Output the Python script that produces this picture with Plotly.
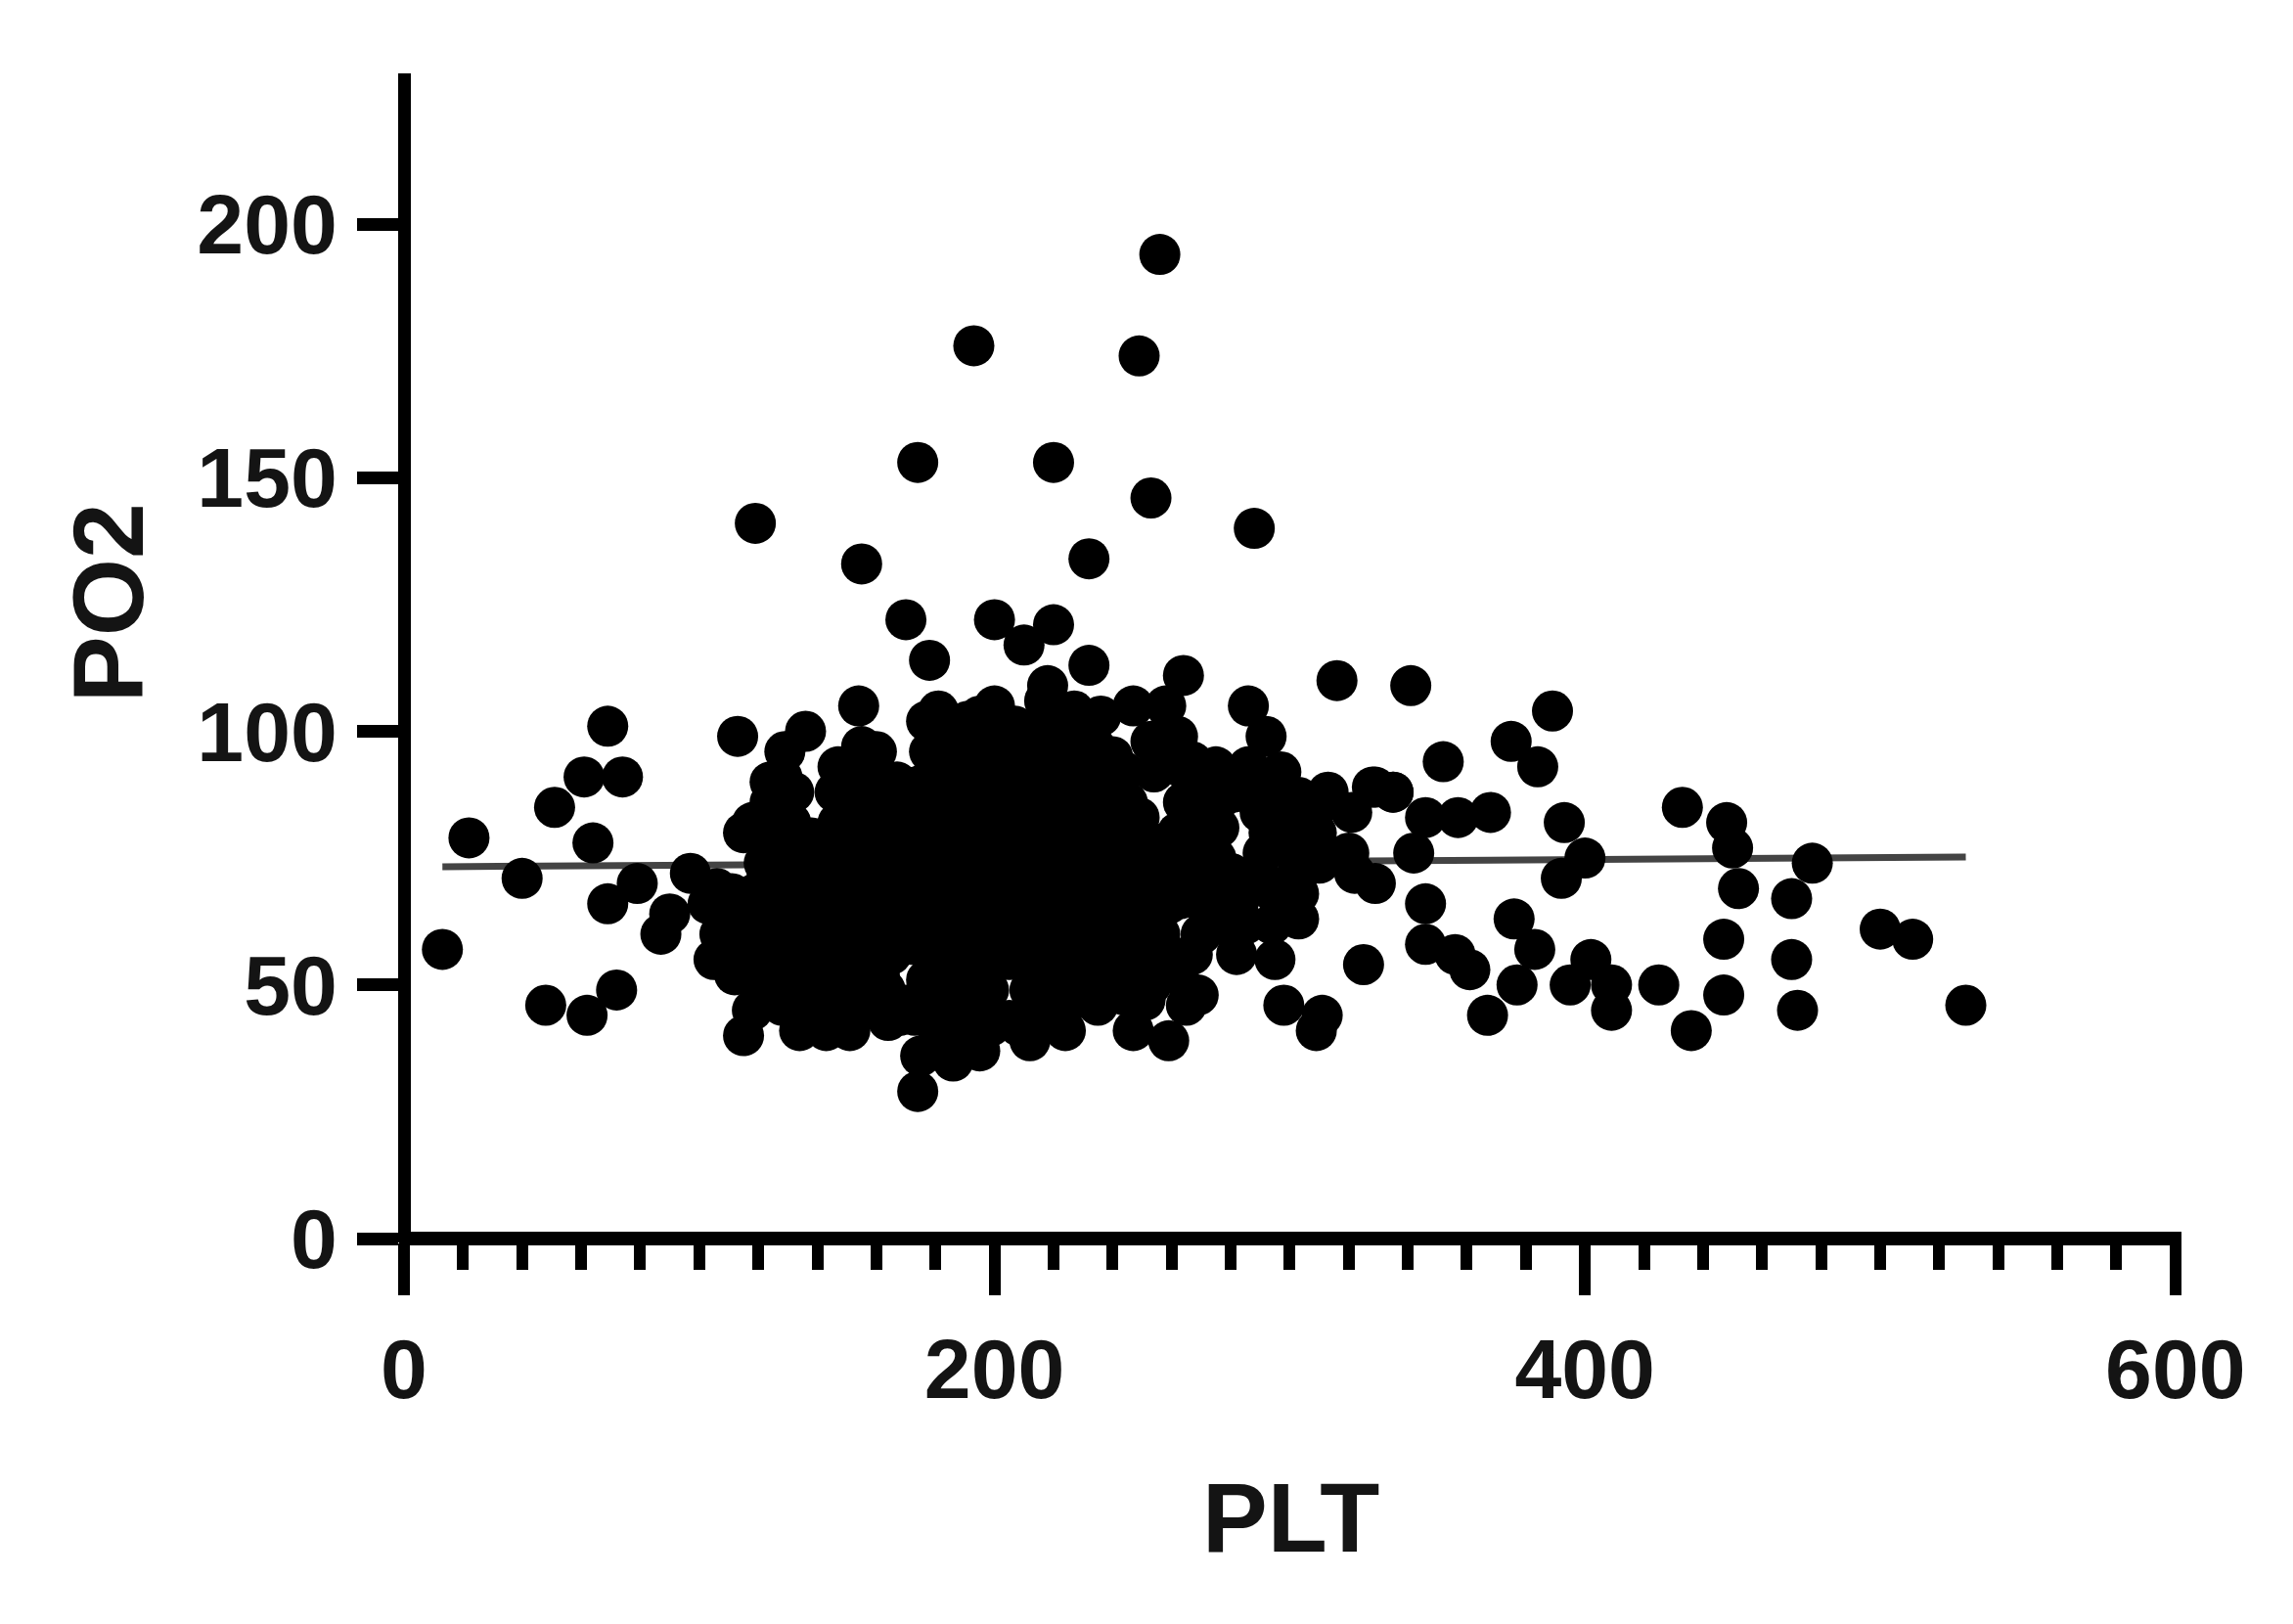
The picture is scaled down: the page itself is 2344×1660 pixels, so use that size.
import plotly.graph_objects as go

# isolated dots
plt_outer = [13, 22, 40, 51, 48, 61, 64, 62, 69, 74, 69, 72, 79, 90, 87, 97, 106, 113, 119, 115,
             155, 174, 193, 220, 249, 256, 253, 288, 232, 170, 200, 210, 220, 178, 154, 218, 232,
             264, 316, 341, 286, 389, 375, 384, 352, 292, 393, 433, 448, 368, 357, 346, 312, 328,
             335, 275, 297, 400, 392, 450, 452, 477, 470, 342, 329, 346, 346, 356, 361, 376, 383,
             377, 367, 395, 402, 409, 409, 425, 436, 447, 447, 470, 472, 500, 511, 529, 325, 309,
             311, 298, 295, 282, 269, 259, 247, 224, 212, 195, 186, 174, 175, 168, 151, 143, 134,
             115, 118, 283, 303, 303, 329, 136, 129, 247, 258, 313, 335]
po2_outer = [57, 79, 71, 85, 46, 91, 78, 44, 101, 91, 66, 49, 70, 64, 60, 72, 69, 99, 141, 80,
             133, 153, 176, 153, 174, 194, 146, 140, 134, 122, 122, 117, 121, 114, 105, 109, 113,
             111, 110, 109, 105, 104, 98, 93, 94, 99, 82, 85, 82, 84, 83, 83, 87, 89,
             88, 93, 92, 75, 71, 77, 69, 74, 67, 76, 70, 66, 58, 56, 53, 63, 57,
             50, 44, 50, 55, 50, 45, 50, 41, 48, 59, 55, 45, 61, 59, 46, 54, 41,
             44, 46, 55, 56, 48, 39, 41, 41, 39, 37, 35, 29, 36, 44, 41, 41, 41,
             40, 45, 67, 68, 74, 89, 100, 96, 105, 105, 88, 88]

# the dense middle of the cloud, estimated column by column
plt_core = [105, 107, 103, 112, 113, 111, 120, 118, 121, 119, 122, 118,
            128, 127, 129, 128, 126, 129, 127, 128,
            137, 136, 138, 137, 135, 138,
            146, 147, 145, 146, 148, 145, 147, 146, 147,
            155, 154, 156, 155, 157, 154, 155, 156, 155,
            164, 163, 165, 164, 166, 163, 164, 165,
            173, 172, 174, 173, 172, 174, 173,
            181, 182, 180, 181, 183, 180, 182, 181, 180, 182, 181,
            190, 191, 189, 190, 192, 189, 190, 191, 190, 189, 191,
            199, 198, 200, 199, 201, 198, 200, 199, 198, 200,
            208, 209, 207, 208, 210, 207, 209, 208, 207,
            217, 216, 218, 217, 219, 216, 218, 217, 216, 218, 217,
            226, 227, 225, 226, 228, 225, 227, 226, 225, 227,
            235, 236, 234, 235, 237, 234, 236, 235, 234, 236,
            244, 243, 245, 244, 246, 243, 245, 244,
            253, 252, 254, 253, 255, 254, 253,
            262, 264, 263, 262, 264, 263, 262,
            271, 272, 270, 271, 272,
            280, 279, 281,
            290, 291, 290, 291,
            300, 301, 299,
            310, 309, 311, 320, 321, 322]
po2_core = [55, 60, 66, 52, 58, 64, 50, 56, 62, 68, 74, 82,
            46, 53, 59, 66, 72, 78, 85, 91,
            47, 54, 60, 67, 73, 79,
            44, 50, 57, 63, 70, 76, 82, 88, 93,
            46, 52, 59, 65, 72, 78, 85, 91, 97,
            43, 49, 56, 62, 69, 75, 81, 88,
            44, 58, 64, 70, 77, 83, 89,
            41, 47, 53, 60, 66, 72, 79, 85, 92, 98, 104,
            40, 46, 52, 58, 65, 71, 77, 84, 90, 96, 102,
            42, 56, 62, 68, 75, 81, 87, 94, 100, 105,
            42, 57, 63, 70, 76, 83, 89, 95, 101,
            45, 51, 58, 64, 71, 77, 84, 90, 96, 103, 106,
            47, 53, 60, 66, 73, 79, 85, 92, 98, 104,
            46, 52, 58, 65, 71, 78, 84, 90, 97, 103,
            48, 54, 61, 67, 74, 80, 86, 92,
            50, 56, 62, 69, 75, 92, 98,
            52, 68, 74, 80, 86, 93, 99,
            66, 72, 78, 84, 90,
            72, 62, 88,
            71, 76, 84, 90,
            70, 77, 84,
            74, 80, 86, 76, 84, 72]

# second pass over the same area, where the reference is solid black
plt_fill = [110, 111, 124, 123, 125, 124, 123, 125, 124, 124,
            132, 133, 131, 132, 133, 131, 132,
            141, 142, 140, 141, 142, 141,
            151, 150, 152, 151, 150, 152, 151, 150,
            160, 161, 159, 160, 161, 159, 160, 161, 160,
            168, 169, 167, 168, 169, 167,
            177, 178, 176, 177, 178, 176, 177, 178, 177,
            186, 185, 187, 186, 185, 187, 186, 185, 187, 186,
            195, 196, 194, 195, 196, 194, 195, 196, 195,
            204, 205, 203, 204, 205, 203, 204,
            213, 214, 212, 213, 214, 212, 213, 214, 212, 213,
            222, 221, 223, 222, 221, 223, 222, 221, 222,
            231, 230, 232, 231, 230, 232, 231, 230, 231,
            240, 241, 239, 240, 241, 239, 240, 240,
            249, 250, 248, 249, 250, 249,
            258, 259, 257, 258,
            267, 268, 266, 267, 268, 267,
            276, 277, 275, 276, 277,
            285, 286, 285, 286,
            294, 295, 293, 294,
            303, 304, 302, 303,
            177, 170, 170, 198, 212, 205, 205, 256, 270, 263, 263, 251, 265]
po2_fill = [62, 68, 48, 54, 60, 66, 72, 78, 86, 90,
            50, 56, 63, 69, 76, 82, 88,
            46, 52, 57, 64, 70, 76,
            48, 54, 61, 67, 74, 80, 86, 92,
            46, 52, 59, 66, 72, 78, 84, 90, 96,
            60, 66, 72, 78, 84, 90,
            44, 60, 66, 72, 78, 84, 90, 96, 102,
            44, 50, 56, 62, 68, 74, 81, 87, 94, 100,
            44, 60, 65, 71, 78, 84, 91, 97, 103,
            60, 66, 73, 79, 86, 92, 98,
            44, 48, 55, 61, 67, 74, 80, 87, 93, 99,
            49, 56, 62, 69, 75, 81, 88, 94, 100,
            50, 56, 62, 69, 75, 82, 88, 94, 100,
            50, 56, 63, 70, 76, 83, 89, 95,
            52, 58, 64, 71, 77, 83,
            54, 66, 72, 78,
            56, 70, 76, 82, 88, 94,
            62, 68, 75, 81, 87,
            62, 70, 88, 93,
            62, 68, 80, 86,
            63, 74, 80, 87,
            51, 46, 58, 49, 49, 43, 55, 60, 60, 54, 67, 47, 46]

fit_x = [13, 529]
fit_y = [73.3, 75.2]

x_ticks = [0, 200, 400, 600]
y_ticks = [0, 50, 100, 150, 200]
INK = "#000000"
TEXT = "#141414"
FONT = "Liberation Sans"

fig = go.Figure()
fig.add_trace(go.Scatter(x=fit_x, y=fit_y, mode="lines", line=dict(color="#444444", width=7)))
fig.add_trace(
    go.Scatter(
        x=plt_outer + plt_core + plt_fill,
        y=po2_outer + po2_core + po2_fill,
        mode="markers",
        marker=dict(size=42, color=INK),
    )
)

# zero lines stand in for the axis lines so they sit centred on the 0 ticks
fig.update_xaxes(
    range=[-1.657, 602.05],
    showgrid=False,
    showline=False,
    zeroline=True,
    zerolinecolor=INK,
    zerolinewidth=13,
    tickmode="array",
    tickvals=x_ticks,
    ticks="outside",
    ticklen=53,
    tickwidth=12,
    tickcolor=INK,
    ticklabelstandoff=2,
    tickfont=dict(family=FONT, size=86, color=TEXT, weight="bold"),
    minor=dict(tick0=0, dtick=20, ticks="outside", ticklen=27, tickwidth=12, tickcolor=INK),
)
fig.update_yaxes(
    range=[-0.771, 229.7],
    showgrid=False,
    showline=False,
    zeroline=True,
    zerolinecolor=INK,
    zerolinewidth=14,
    tickmode="array",
    tickvals=y_ticks,
    ticks="outside",
    ticklen=42,
    tickwidth=13,
    tickcolor=INK,
    ticklabelstandoff=3,
    tickfont=dict(family=FONT, size=86, color=TEXT, weight="bold"),
)
fig.update_layout(
    width=2344,
    height=1660,
    margin=dict(l=408, r=114, t=75, b=390),
    paper_bgcolor="white",
    plot_bgcolor="white",
    showlegend=False,
    annotations=[
        dict(
            text="<b>PLT</b>", xref="paper", yref="paper", x=0.5, y=-0.2355,
            showarrow=False, yanchor="middle",
            font=dict(family=FONT, size=100, color=TEXT),
        ),
        dict(
            text="<b>PO2</b>", xref="paper", yref="paper", x=-0.163, y=0.547,
            showarrow=False, textangle=-90, xanchor="center",
            font=dict(family=FONT, size=102, color=TEXT),
        ),
    ],
)

fig.write_html(
    "out.html",
    config={"displayModeBar": False},
    post_script="document.body.style.margin='0';",
)
